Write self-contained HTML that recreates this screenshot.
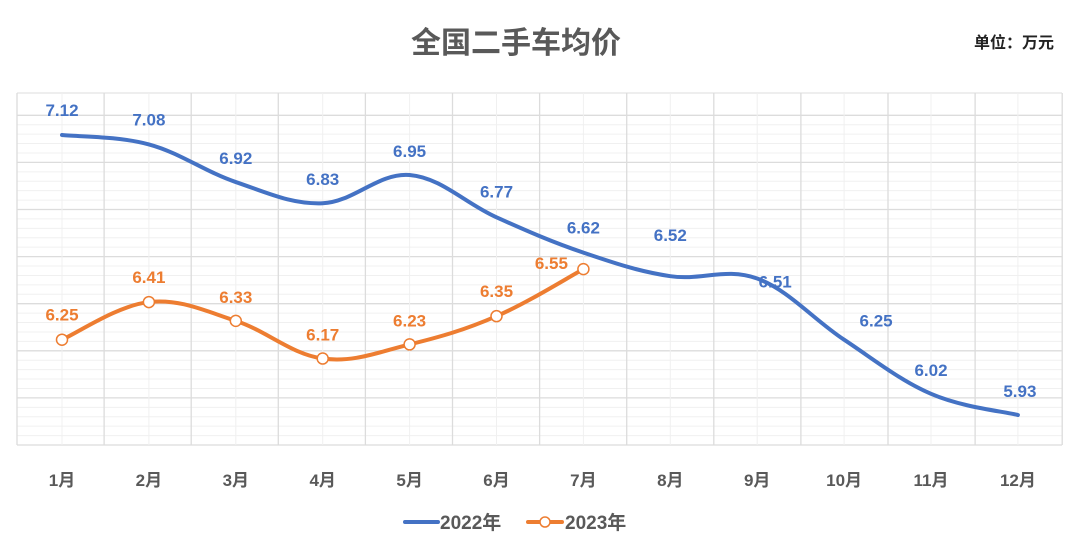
<!DOCTYPE html>
<html><head><meta charset="utf-8"><style>
body{margin:0;background:#fff;width:1080px;height:540px;overflow:hidden}
svg text{font-family:"Liberation Sans","Noto Sans CJK SC",sans-serif;font-weight:bold}
</style></head><body>
<svg id="c" width="1080" height="540">
<g id="grid"></g>
<text x="516" y="53" text-anchor="middle" font-size="30" fill="#595959">全国二手车均价</text>
<text x="1054" y="48" text-anchor="end" font-size="16" fill="#222">单位：万元</text>
<g id="xl"></g>
<g id="series"></g>
<g>
<g><line x1="405" y1="522" x2="438" y2="522" stroke="#4472C4" stroke-width="4" stroke-linecap="round"/><text x="440" y="529" font-size="19" fill="#595959">2022年</text></g>
<g><line x1="528" y1="522" x2="562" y2="522" stroke="#ED7D31" stroke-width="4" stroke-linecap="round"/><circle cx="545" cy="522" r="5" fill="#fff" stroke="#ED7D31" stroke-width="1.5"/><text x="565" y="529" font-size="19" fill="#595959">2023年</text></g>
</g>
</svg>
<script>
const categories=["1月","2月","3月","4月","5月","6月","7月","8月","9月","10月","11月","12月"];
const values2022=[7.12,7.08,6.92,6.83,6.95,6.77,6.62,6.52,6.51,6.25,6.02,5.93];
const values2023=[6.25,6.41,6.33,6.17,6.23,6.35,6.55];
const off2022=[[0,-25],[0,-25],[0,-24],[0,-24],[0,-24],[0,-26],[0,-25],[0,-41],[18,3],[32,-19],[0,-24],[2,-24]];
const off2023=[[0,-25],[0,-25],[0,-24],[0,-24],[0,-24],[0,-25],[-32,-6]];
const ns="http://www.w3.org/2000/svg";
const xs=i=>62+i*86.9;
const ys=v=>135+(7.12-v)*235.3;
function mk(t,a,p){const e=document.createElementNS(ns,t);for(const k in a)e.setAttribute(k,a[k]);p.appendChild(e);return e;}
const g=document.getElementById('grid');
for(let k=0;k<=7*5;k++){const y=445-k*47.1/5;if(y<92)break;mk('line',{x1:17,x2:1062,y1:y,y2:y,stroke:k%5?'#f0f0f0':'#dcdcdc','stroke-width':k%5?1:1.3},g);}
mk('line',{x1:17,x2:1062,y1:93,y2:93,stroke:'#dcdcdc'},g);
for(let i=0;i<=12;i++){const x=17+i*87.1;mk('line',{x1:x,x2:x,y1:93,y2:445,stroke:'#dcdcdc','stroke-width':1.3},g);}
for(let i=0;i<12;i++){const x=xs(i);mk('line',{x1:x,x2:x,y1:93,y2:445,stroke:'#f0f0f0'},g);}
const xl=document.getElementById('xl');
categories.forEach((c,i)=>{const t=mk('text',{x:xs(i),y:486,'text-anchor':'middle','font-size':17,fill:'#595959'},xl);t.textContent=c;

});
function path(pts){let d=`M${pts[0][0]},${pts[0][1]}`;const t=0.18;for(let i=0;i<pts.length-1;i++){const p0=pts[i-1]||pts[i],p1=pts[i],p2=pts[i+1],p3=pts[i+2]||p2;
d+=` C${p1[0]+(p2[0]-p0[0])*t},${p1[1]+(p2[1]-p0[1])*t} ${p2[0]-(p3[0]-p1[0])*t},${p2[1]-(p3[1]-p1[1])*t} ${p2[0]},${p2[1]}`;}return d;}
const s=document.getElementById('series');
function draw(vals,col,marker,name,off){const pts=vals.map((v,i)=>[xs(i),ys(v)]);
const p=mk('path',{d:path(pts),fill:'none',stroke:col,'stroke-width':4,'stroke-linecap':'round'},s);


vals.forEach((v,i)=>{if(marker){const c=mk('circle',{cx:xs(i),cy:ys(v),r:5.5,fill:'#fff',stroke:col,'stroke-width':1.5},s);

}
const t=mk('text',{x:xs(i)+off[i][0],y:ys(v)+off[i][1]+6,'text-anchor':'middle','font-size':17,fill:col},s);t.textContent=v.toFixed(2);

});}
draw(values2022,'#4472C4',false,'series-2022',off2022);
draw(values2023,'#ED7D31',true,'series-2023',off2023);
</script>
</body></html>
